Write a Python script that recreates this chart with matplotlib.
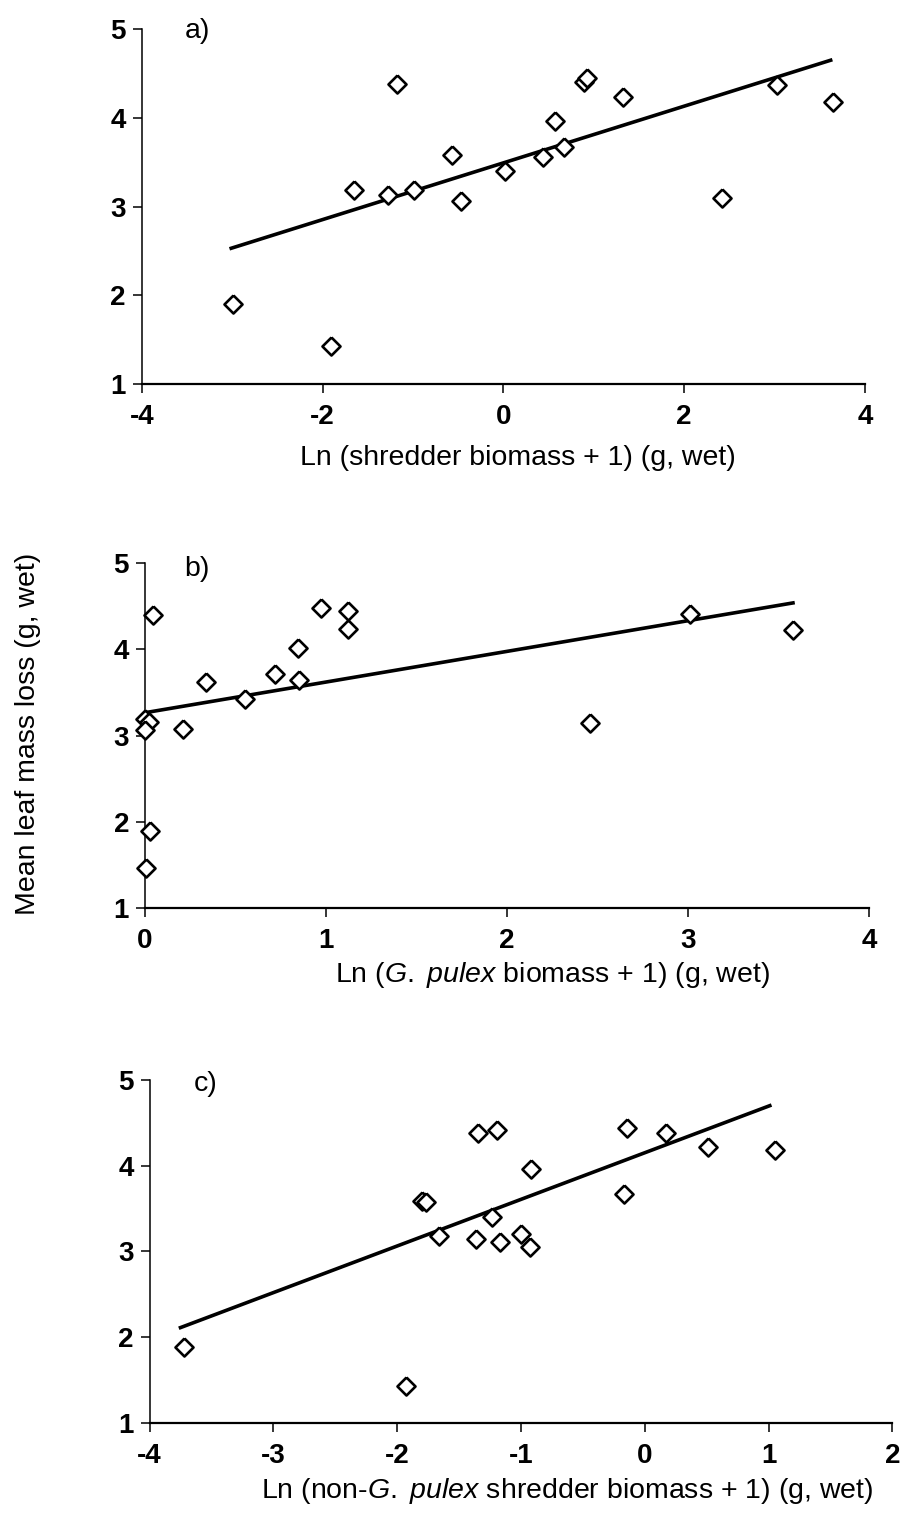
import matplotlib
matplotlib.use("Agg")
import matplotlib.pyplot as plt

plt.rcParams['font.family'] = ['Liberation Sans', 'DejaVu Sans']
plt.rcParams['axes.unicode_minus'] = False
plt.rcParams['mathtext.fontset'] = 'custom'
plt.rcParams['mathtext.rm'] = 'Liberation Sans'
plt.rcParams['mathtext.it'] = 'Liberation Sans:italic'

# panel a: total shredder biomass
a_x = [-2.99, -1.91, -1.65, -1.28, -1.18, -0.99, -0.57, -0.47, 0.02, 0.44,
       0.57, 0.67, 0.89, 0.93, 1.32, 2.42, 3.03, 3.65]
a_y = [1.90, 1.43, 3.19, 3.13, 4.38, 3.19, 3.58, 3.06, 3.40, 3.56,
       3.97, 3.67, 4.41, 4.45, 4.23, 3.10, 4.37, 4.18]
a_fit_x = [-3.01, 3.62]
a_fit_y = [2.53, 4.65]

# panel b: G. pulex biomass
b_x = [0.00, 0.02, 0.00, 0.045, 0.025, 0.005, 0.21, 0.335, 0.55, 0.72,
       0.845, 0.85, 0.97, 1.12, 1.12, 2.46, 3.01, 3.58]
b_y = [3.19, 3.16, 3.07, 4.40, 1.89, 1.46, 3.08, 3.62, 3.43, 3.72,
       4.02, 3.64, 4.48, 4.45, 4.24, 3.14, 4.41, 4.22]
b_fit_x = [0.0, 3.58]
b_fit_y = [3.265, 4.54]

# panel c: non-G. pulex shredder biomass
c_x = [-3.72, -1.93, -1.80, -1.77, -1.66, -1.36, -1.35, -1.19, -1.23, -1.17,
       -1.00, -0.93, -0.92, -0.17, -0.14, 0.17, 0.51, 1.05]
c_y = [1.88, 1.43, 3.59, 3.58, 3.18, 3.14, 4.38, 4.42, 3.40, 3.11,
       3.20, 3.05, 3.96, 3.67, 4.44, 4.38, 4.22, 4.18]
c_fit_x = [-3.75, 1.01]
c_fit_y = [2.11, 4.70]

panel_letters = ["a)", "b)", "c)"]
xlabels = ["Ln (shredder biomass + 1) (g, wet)",
           r"Ln ($\mathit{G.}$ $\mathit{pulex}$ biomass + 1) (g, wet)",
           r"Ln (non-$\mathit{G.}$ $\mathit{pulex}$ shredder biomass + 1) (g, wet)"]
xticks = [[-4, -2, 0, 2, 4], [0, 1, 2, 3, 4], [-4, -3, -2, -1, 0, 1, 2]]
yticks = [1, 2, 3, 4, 5]

diamond = [(0, 1), (1, 0), (0, -1), (-1, 0), (0, 1)]

fig = plt.figure(figsize=(9.09, 15.20), dpi=100)
boxes = [[0.1559, 0.7474, 0.7957, 0.2334],
         [0.1595, 0.4028, 0.7965, 0.2266],
         [0.1645, 0.0640, 0.8172, 0.2255]]
letter_pos = [(0.0765, 0.995), (0.072, 0.983), (0.075, 0.988)]
label_pos = [(0.5196, -0.171), (0.5635, -0.152), (0.562, -0.154)]

data = [(a_x, a_y, a_fit_x, a_fit_y),
        (b_x, b_y, b_fit_x, b_fit_y),
        (c_x, c_y, c_fit_x, c_fit_y)]

for i, (xs, ys, fx, fy) in enumerate(data):
    ax = fig.add_axes(boxes[i])
    ax.plot(fx, fy, color='black', lw=2.6, zorder=2)
    ax.plot(xs, ys, ls='none', marker=diamond, ms=13, mfc='white',
            mec='black', mew=1.9, clip_on=False, zorder=3)
    ax.set_xlim(xticks[i][0], xticks[i][-1])
    ax.set_ylim(1, 5)
    ax.set_xticks(xticks[i])
    ax.set_yticks(yticks)
    for s in ['top', 'right']:
        ax.spines[s].set_visible(False)
    ax.spines['left'].set_linewidth(1.1)
    ax.spines['bottom'].set_linewidth(1.6)
    ax.tick_params(axis='x', direction='out', length=6.5, width=1.1,
                   pad=8, labelsize=20)
    ax.tick_params(axis='y', direction='out', length=6.5, width=1.1,
                   pad=5, labelsize=20)
    for t in ax.get_xticklabels() + ax.get_yticklabels():
        t.set_fontweight('bold')
    ax.set_xlabel(xlabels[i], fontsize=20.5)
    ax.xaxis.set_label_coords(*label_pos[i])
    ax.text(letter_pos[i][0], letter_pos[i][1], panel_letters[i],
            transform=ax.transAxes, fontsize=20.5, ha='center', va='center')

fig.text(28 / 909, 1 - 734 / 1520, "Mean leaf mass loss (g, wet)",
         rotation=90, fontsize=20.5, ha='center', va='center')

fig.savefig("out.png", dpi=100)
